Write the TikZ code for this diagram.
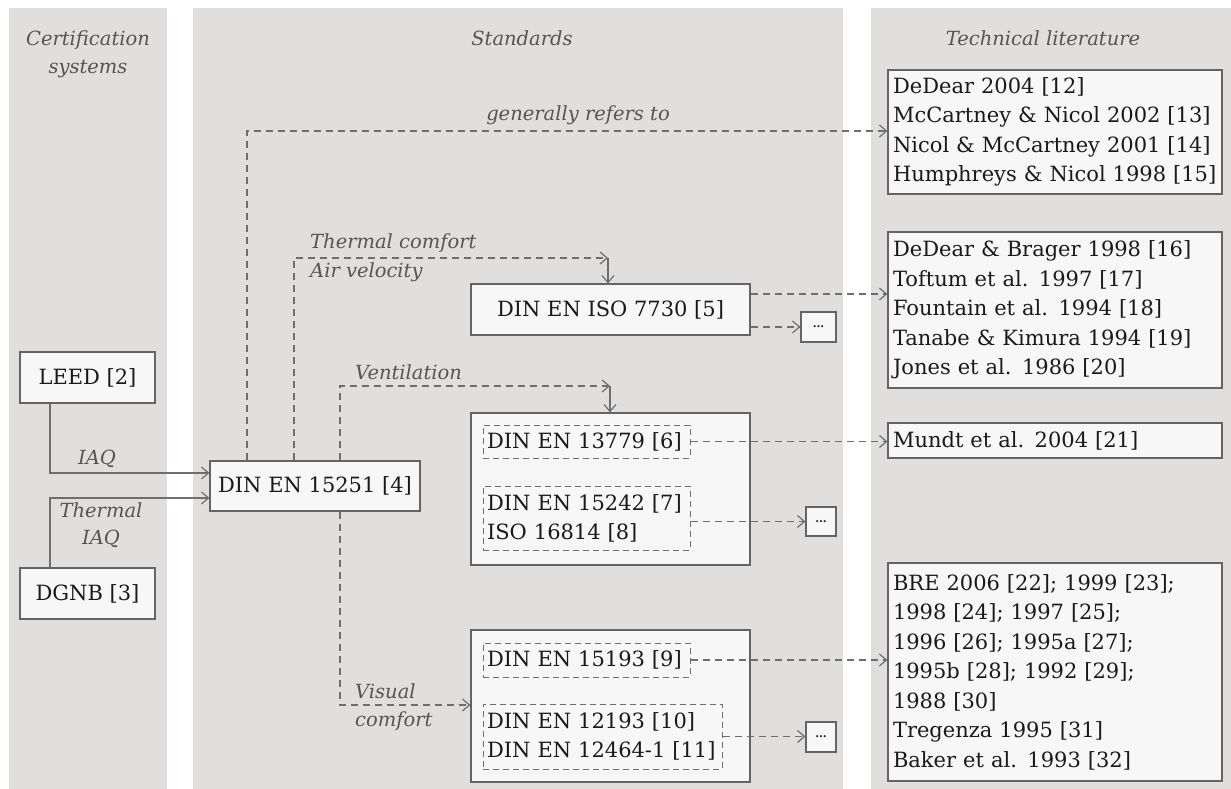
\documentclass[tikz,border=0pt]{standalone}
\usepackage{fontspec}
\setmainfont{DejaVu Serif}
\usetikzlibrary{arrows.meta, positioning, calc}
\definecolor{colbg}{RGB}{224,223,222}
\definecolor{boxfill}{RGB}{247,247,247}
\definecolor{boxline}{RGB}{100,100,100}
\definecolor{linegray}{RGB}{110,110,110}
\definecolor{labelgray}{RGB}{85,85,85}
\definecolor{textdark}{RGB}{25,25,25}

\begin{document}
\begin{tikzpicture}[x=1pt, y=-1pt,
  column/.style={fill=colbg, draw=none},
  head/.style={font=\fontsize{19.5}{28}\selectfont\itshape, text=labelgray, align=center},
  cert/.style={rectangle, draw=boxline, fill=boxfill, line width=1.2pt, minimum width=135pt, minimum height=51pt, inner sep=0pt, font=\fontsize{21}{28}\selectfont, text=textdark},
  std/.style={rectangle, draw=boxline, fill=boxfill, line width=1.2pt, minimum width=279pt, inner sep=0pt, font=\fontsize{21}{28}\selectfont, text=textdark},
  sub/.style={rectangle, draw=linegray, dash pattern=on 6pt off 4pt, line width=1pt, inner xsep=4pt, inner ysep=0pt, align=left, font=\fontsize{21}{29}\selectfont, text=textdark},
  lit/.style={rectangle, draw=boxline, fill=boxfill, line width=1.2pt, text width=324pt, inner xsep=5pt, inner ysep=0pt, align=left, font=\fontsize{21}{29.5}\selectfont, text=textdark},
  dots/.style={rectangle, draw=boxline, fill=boxfill, line width=1.2pt, inner sep=0pt, font=\fontsize{11}{11}\selectfont\bfseries, text=textdark},
  lbl/.style={font=\fontsize{19.5}{28}\selectfont\itshape, text=labelgray, inner sep=0pt},
  arr/.style={-{Straight Barb[length=7pt,width=12pt]}, line width=1.2pt, draw=linegray},
  darr/.style={arr, dash pattern=on 7pt off 5pt}
]
\fill[white] (0,0) rectangle (1231,789);
\useasboundingbox (0,0) rectangle (1231,789);
% Columns
\fill[column] (9,8) rectangle (167,789);
\fill[column] (193,8) rectangle (843,789);
\fill[column] (871,8) rectangle (1231,789);
\node[head] (hcert) at (88,54) {Certification\\systems};
\node[head] (hstd) at (522,38) {Standards};
\node[head] (hlit) at (1043,38) {Technical literature};
% Certification systems
\node[cert] (leed) at (87.5,377.5) {LEED [2]};
\node[cert] (dgnb) at (87.5,593.5) {DGNB [3]};
% Standards
\node[cert, minimum width=210pt, minimum height=50pt] (din15251) at (315,486) {DIN EN 15251 [4]};
\node[std, minimum height=51pt] (std7730) at (610.5,309.5) {DIN EN ISO 7730 [5]};
\node[std, minimum height=152pt] (vent) at (610.5,489) {};
\node[std, minimum height=152pt] (visual) at (610.5,706) {};
\node[sub, text width=199pt, minimum height=33pt] (d13779) at (586.5,441.5) {DIN EN 13779 [6]};
\node[sub, text width=199pt, minimum height=64pt] (d15242) at (586.5,518) {DIN EN 15242 [7]\\ISO 16814 [8]};
\node[sub, text width=199pt, minimum height=34pt] (d15193) at (586.5,660) {DIN EN 15193 [9]};
\node[sub, text width=231pt, minimum height=65pt] (d12193) at (602.5,736.5) {DIN EN 12193 [10]\\DIN EN 12464-1 [11]};
\node[dots, minimum width=35pt, minimum height=30pt] (dots1) at (818.5,327) {...};
\node[dots, minimum width=30pt, minimum height=29pt] (dots2) at (821,521.5) {...};
\node[dots, minimum width=30pt, minimum height=30pt] (dots3) at (821,737) {...};
% Technical literature
\node[lit, minimum height=124pt] (lit1) at (1055,132) {DeDear 2004 [12]\\McCartney \& Nicol 2002 [13]\\Nicol \& McCartney 2001 [14]\\Humphreys \& Nicol 1998 [15]};
\node[lit, minimum height=156pt] (lit2) at (1055,310) {DeDear \& Brager 1998 [16]\\Toftum et al. 1997 [17]\\Fountain et al. 1994 [18]\\Tanabe \& Kimura 1994 [19]\\Jones et al. 1986 [20]};
\node[lit, minimum height=35pt] (lit3) at (1055,440.5) {Mundt et al. 2004 [21]};
\node[lit, minimum height=218pt] (lit4) at (1055,672) {BRE 2006 [22]; 1999 [23];\\1998 [24]; 1997 [25];\\1996 [26]; 1995a [27];\\1995b [28]; 1992 [29];\\1988 [30]\\Tregenza 1995 [31]\\Baker et al. 1993 [32]};
% Bend points
\coordinate (leedbend) at (50,473);
\coordinate (dgnbbend) at (50,498);
\coordinate (genbend) at (247,131);
\coordinate (thbend) at (294,258);
\coordinate (thdrop) at (608,258);
\coordinate (vtbend) at (340,386);
\coordinate (vtdrop) at (610,386);
\coordinate (visbend) at (340,705);
\coordinate (y7730a) at (0,294);
\coordinate (y7730b) at (0,327);
% Arrows
\draw[arr] (leed.south -| leedbend) -- (leedbend) -- (din15251.west |- leedbend);
\draw[arr] (dgnb.north -| dgnbbend) -- (dgnbbend) -- (din15251.west |- dgnbbend);
\node[lbl] at (97,459) {IAQ};
\node[lbl, align=center, font=\fontsize{19.5}{27}\selectfont\itshape] at (101,525) {Thermal\\IAQ};
\draw[darr] (din15251.north -| genbend) -- (genbend) -- (lit1.west |- genbend);
\node[lbl] at (578,115) {generally refers to};
\draw[darr] (din15251.north -| thbend) -- (thbend) -- (thdrop);
\draw[arr] (thdrop) -- (std7730.north -| thdrop);
\node[lbl, anchor=west] at (310,243) {Thermal comfort};
\node[lbl, anchor=west] at (310,272) {Air velocity};
\draw[darr] (din15251.north -| vtbend) -- (vtbend) -- (vtdrop);
\draw[arr] (vtdrop) -- (vent.north -| vtdrop);
\node[lbl, anchor=west] at (355,372) {Ventilation};
\draw[darr] (din15251.south -| visbend) -- (visbend) -- (visual.west |- visbend);
\node[lbl, anchor=west] at (355,691) {Visual};
\node[lbl, anchor=west] at (355,721) {comfort};
\draw[darr] (std7730.east |- y7730a) -- (lit2.west |- y7730a);
\draw[darr] (std7730.east |- y7730b) -- (dots1.west |- y7730b);
\draw[darr] (d13779.east) -- (lit3.west |- d13779.east);
\draw[darr] (d15242.east |- dots2.west) -- (dots2.west);
\draw[darr] (d15193.east) -- (lit4.west |- d15193.east);
\draw[darr] (d12193.east) -- (dots3.west |- d12193.east);
\end{tikzpicture}
\end{document}
